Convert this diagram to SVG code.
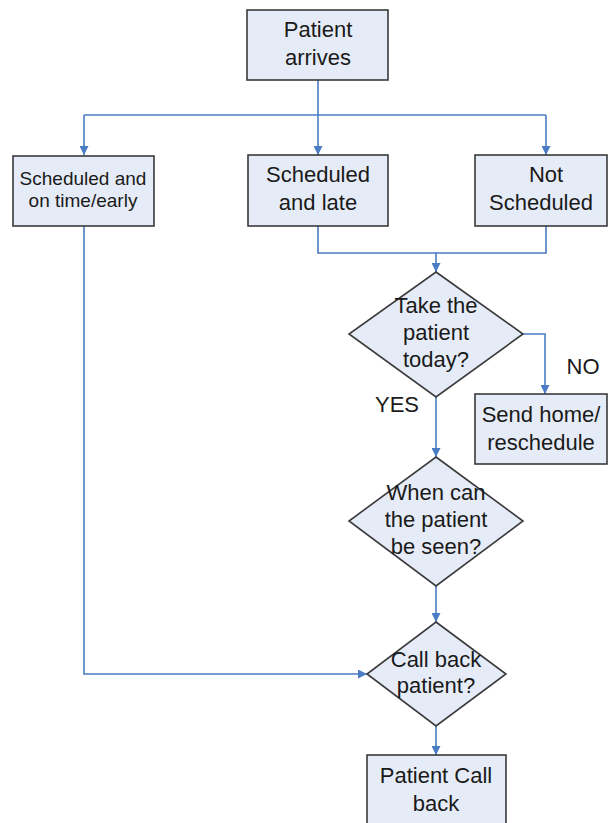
<svg xmlns="http://www.w3.org/2000/svg" width="609" height="823" viewBox="0 0 609 823">
<style>
.box{fill:#E6ECF7;stroke:#3a3a3a;stroke-width:1.6}
.t{font-family:"Liberation Sans",Arial,sans-serif;font-size:22px;fill:#1a1a1a;text-anchor:middle}
.s{font-size:19px}
.c{fill:none;stroke:#4A7CC4;stroke-width:1.6}
</style>
<defs>
<marker id="a" viewBox="0 0 10 10" refX="10" refY="5" markerWidth="9" markerHeight="9" markerUnits="userSpaceOnUse" orient="auto">
<path d="M0,0 L10,5 L0,10 z" fill="#4A7CC4"/>
</marker>
</defs>
<rect width="609" height="823" fill="#fff"/>
<g id="connectors">
<path class="c" d="M318,80 V115"/>
<path class="c" d="M84,115 H546"/>
<path class="c" d="M84,115 V155" marker-end="url(#a)"/>
<path class="c" d="M318,115 V155" marker-end="url(#a)"/>
<path class="c" d="M546,115 V155" marker-end="url(#a)"/>
<path class="c" d="M318,226 V253 H546 V226"/>
<path class="c" d="M436,253 V272" marker-end="url(#a)"/>
<path class="c" d="M523,334 H545 V394" marker-end="url(#a)"/>
<path class="c" d="M436,397 V457" marker-end="url(#a)"/>
<path class="c" d="M436,586 V622" marker-end="url(#a)"/>
<path class="c" d="M84,226 V674 H367" marker-end="url(#a)"/>
<path class="c" d="M436,726 V755" marker-end="url(#a)"/>
</g>
<g id="patient-arrives">
<rect class="box" x="247" y="10" width="141" height="70"/>
<text class="t" x="318" y="37">Patient</text>
<text class="t" x="318" y="65">arrives</text>
</g>
<g id="scheduled-on-time">
<rect class="box" x="13" y="156" width="141" height="70"/>
<text class="t s" x="83" y="185">Scheduled and</text>
<text class="t s" x="83" y="207">on time/early</text>
</g>
<g id="scheduled-late">
<rect class="box" x="248" y="155" width="140" height="71"/>
<text class="t" x="318" y="182">Scheduled</text>
<text class="t" x="318" y="210">and late</text>
</g>
<g id="not-scheduled">
<rect class="box" x="475" y="155" width="132" height="71"/>
<text class="t" x="546" y="182">Not</text>
<text class="t" x="541" y="210">Scheduled</text>
</g>
<g id="take-today">
<polygon class="box" points="436,272 523,334 436,397 349,334"/>
<text class="t" x="436" y="313">Take the</text>
<text class="t" x="436" y="340">patient</text>
<text class="t" x="436" y="367">today?</text>
</g>
<g id="send-home">
<rect class="box" x="475" y="394" width="132" height="70"/>
<text class="t" x="541" y="422">Send home/</text>
<text class="t" x="541" y="450">reschedule</text>
</g>
<g id="when-seen">
<polygon class="box" points="436,457 523,521 436,586 349,521"/>
<text class="t" x="436" y="500">When can</text>
<text class="t" x="436" y="527">the patient</text>
<text class="t" x="436" y="554">be seen?</text>
</g>
<g id="call-back">
<polygon class="box" points="436,622 506,674 436,726 367,674"/>
<text class="t" x="436" y="667">Call back</text>
<text class="t" x="436" y="693">patient?</text>
</g>
<g id="patient-call-back">
<rect class="box" x="367" y="755" width="139" height="72"/>
<text class="t" x="436" y="783">Patient Call</text>
<text class="t" x="436" y="811">back</text>
</g>
<g id="labels">
<text class="t" x="583" y="374">NO</text>
<text class="t" x="397" y="412">YES</text>
</g>
</svg>
